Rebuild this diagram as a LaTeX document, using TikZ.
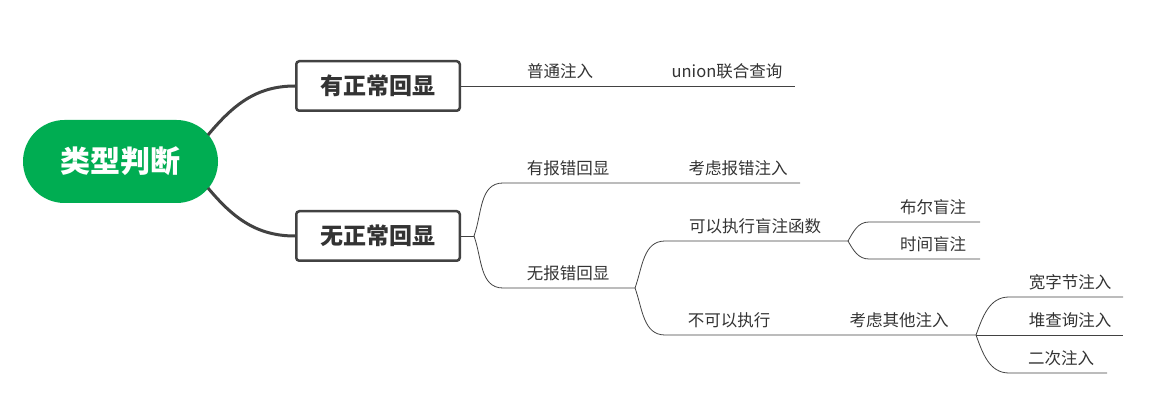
\documentclass[tikz,border=0pt]{standalone}
\usepackage{fontspec}
\setmainfont{Noto Sans CJK SC}
\definecolor{rootgreen}{RGB}{0,173,82}
\definecolor{linegray}{RGB}{66,66,66}
\definecolor{textgray}{RGB}{51,51,51}
\tikzset{ %x=1pt, y=-1pt in the picture
  {root node/.style} ={rectangle, rounded corners=41.5pt, fill=rootgreen,
                text=white, font=\fontsize{30}{30}\selectfont\bfseries,
                minimum width=195pt, minimum height=83pt, inner sep=0},
  {topic/.style} ={rectangle, rounded corners=3pt, draw=linegray,
                line width=2.5pt, fill=white, text=textgray,
                font=\fontsize{23}{23}\selectfont\bfseries,
                minimum width=163.5pt, minimum height=49.5pt, inner sep=0},
  {leaf/.style} ={text=textgray, font=\fontsize{16.5}{16.5}\selectfont, inner sep=0},
  {main link/.style} ={draw=linegray, line width=3pt},
  {link/.style} ={draw=linegray, line width=0.8pt},
}
\begin{document}
\begin{tikzpicture}[x=1pt,y=-1pt]
    \useasboundingbox (0,0) rectangle (1165,406);
    % root and the two topics
    \node[root node] (root) at (120.5,161.5) {类型判断};
    \node[topic] (normal) at (378,86) {有正常回显};
    \node[topic] (nonormal) at (378,236) {无正常回显};
    \coordinate (r1) at (208,135);
    \coordinate (r2) at (208,188);
    \draw[main link] (r1) to[out=50,in=180] (normal.west);
    \draw[main link] (r2) to[out=-50,in=180] (nonormal.west);
    % normal echo
    \coordinate (unionend) at (795,86);
    \node[leaf] (plain) at (560,71.5) {普通注入};
    \node[leaf] (union) at (727,71.5) {union联合查询};
    \draw[link] (normal.east) -- (unionend);
    % no normal echo
    \coordinate (j1) at (474,236);
    \coordinate (errstart) at (503,183);
    \coordinate (errend) at (800,183);
    \coordinate (noerrstart) at (503,288);
    \coordinate (j2) at (635,288);
    \node[leaf] (err) at (568,168.5) {有报错回显};
    \node[leaf] (errinj) at (738,168.5) {考虑报错注入};
    \node[leaf] (noerr) at (568,273.5) {无报错回显};
    \draw[link] (nonormal.east) -- (j1);
    \draw[link] (j1) to[out=70,in=180] (errstart) -- (errend);
    \draw[link] (j1) to[out=-70,in=180] (noerrstart) -- (j2);
    % blind functions
    \coordinate (blindstart) at (665,241);
    \coordinate (j3) at (848,241);
    \coordinate (nostart) at (665,335);
    \coordinate (j4) at (976,335);
    \node[leaf] (blind) at (755,226.5) {可以执行盲注函数};
    \node[leaf] (noexec) at (729,320.5) {不可以执行};
    \node[leaf] (other) at (899,320.5) {考虑其他注入};
    \draw[link] (j2) to[out=70,in=180] (blindstart) -- (j3);
    \draw[link] (j2) to[out=-70,in=180] (nostart) -- (j4);
    % boolean and time
    \coordinate (boolstart) at (869,222);
    \coordinate (boolend) at (980,222);
    \coordinate (timestart) at (869,259);
    \coordinate (timeend) at (980,259);
    \node[leaf] (bool) at (933,207.5) {布尔盲注};
    \node[leaf] (time) at (933,244.5) {时间盲注};
    \draw[link] (j3) to[out=60,in=180] (boolstart) -- (boolend);
    \draw[link] (j3) to[out=-60,in=180] (timestart) -- (timeend);
    % other injections
    \coordinate (widestart) at (1009,297);
    \coordinate (wideend) at (1123,297);
    \coordinate (stackend) at (1123,335);
    \coordinate (secondstart) at (1009,373);
    \coordinate (secondend) at (1107,373);
    \node[leaf] (wide) at (1070,282.5) {宽字节注入};
    \node[leaf] (stack) at (1070,320.5) {堆查询注入};
    \node[leaf] (second) at (1061,358.5) {二次注入};
    \draw[link] (j4) to[out=70,in=180] (widestart) -- (wideend);
    \draw[link] (j4) -- (stackend);
    \draw[link] (j4) to[out=-70,in=180] (secondstart) -- (secondend);
\end{tikzpicture}
\end{document}
